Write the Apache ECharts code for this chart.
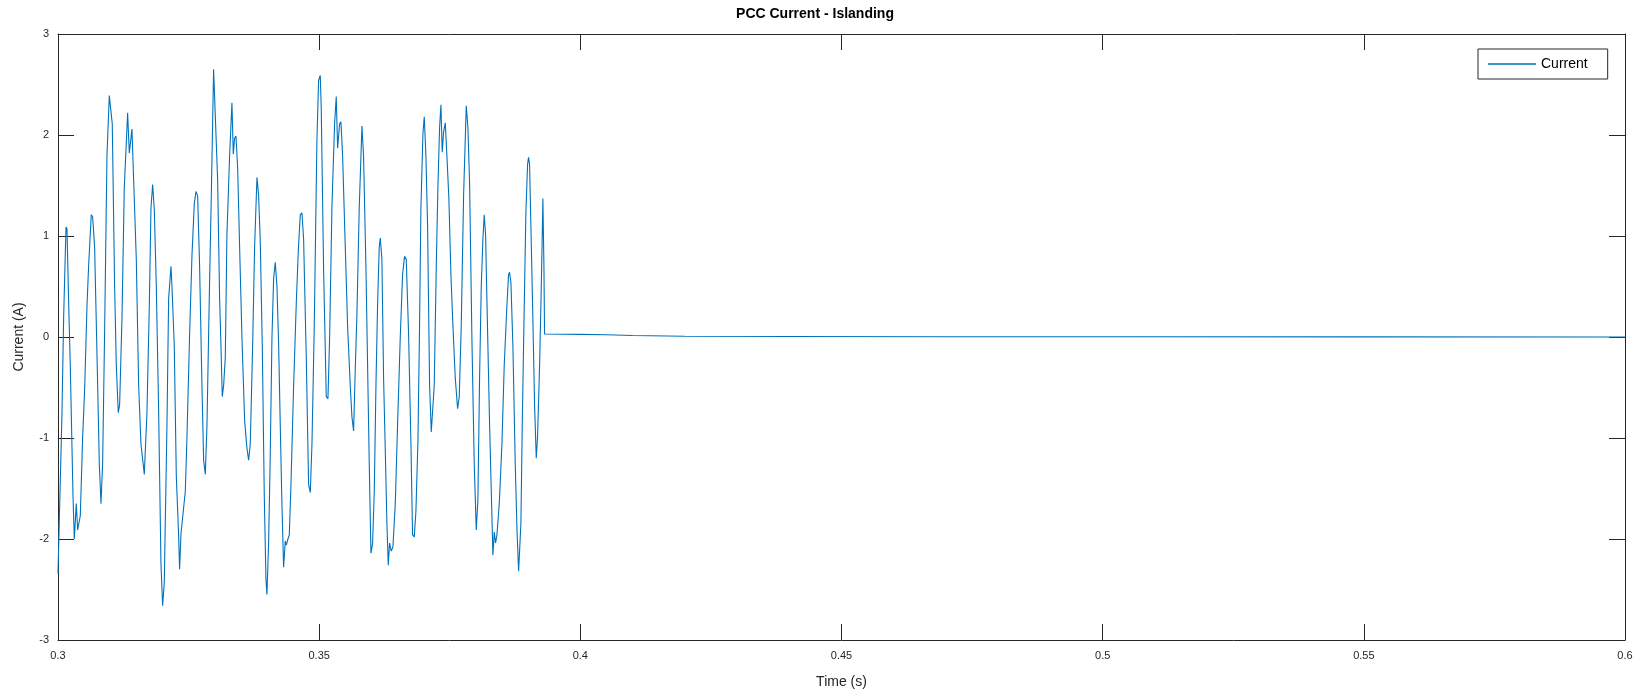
<!DOCTYPE html>
<html>
<head>
<meta charset="utf-8">
<script src="https://cdn.jsdelivr.net/npm/echarts@6/dist/echarts.min.js"></script>
<style>
html,body{margin:0;padding:0;background:#fff;}
#chart{width:1636px;height:694px;}
</style>
</head>
<body>
<div id="chart"></div>
<script>
const chartTitle = 'PCC Current - Islanding';
const xAxisName = 'Time (s)';
const yAxisName = 'Current (A)';
const seriesName = 'Current';

const timeValues = [
0.30000,0.30076,0.30108,0.30153,0.30172,0.30204,0.30235,0.30287,0.30312,0.30350,0.30376,0.30427,0.30472,0.30510,0.30555,0.30586,0.30637,0.30663,0.30701,0.30746,0.30791,0.30823,0.30854,0.30893,0.30937,0.30982,0.31014,0.31039,0.31084,0.31116,0.31154,0.31180,0.31225,0.31269,0.31333,0.31365,0.31416,0.31448,0.31499,0.31544,0.31588,0.31652,0.31703,0.31748,0.31780,0.31812,0.31844,0.31882,0.31926,0.31971,0.32003,0.32035,0.32054,0.32086,0.32118,0.32163,0.32182,0.32226,0.32265,0.32309,0.32328,0.32354,0.32392,0.32437,0.32469,0.32520,0.32565,0.32609,0.32641,0.32673,0.32711,0.32756,0.32788,0.32820,0.32852,0.32896,0.32935,0.32979,0.33011,
0.33056,0.33094,0.33120,0.33145,0.33171,0.33203,0.33234,0.33285,0.33330,0.33356,0.33381,0.33407,0.33439,0.33477,0.33522,0.33573,0.33617,0.33649,0.33681,0.33726,0.33764,0.33809,0.33841,0.33873,0.33911,0.33949,0.33981,0.34000,0.34032,0.34064,0.34096,0.34128,0.34160,0.34192,0.34223,0.34255,0.34287,0.34319,0.34351,0.34370,0.34402,0.34428,0.34460,0.34511,0.34562,0.34600,0.34638,0.34670,0.34702,0.34753,0.34798,0.34830,0.34862,0.34906,0.34957,0.34989,0.35021,0.35040,0.35085,0.35136,0.35168,0.35200,0.35244,0.35295,0.35327,0.35353,0.35391,0.35417,0.35449,0.35500,0.35544,0.35595,0.35627,0.35659,
0.35691,0.35723,0.35767,0.35819,0.35850,0.35895,0.35927,0.35959,0.35991,0.36023,0.36055,0.36087,0.36118,0.36150,0.36170,0.36201,0.36233,0.36272,0.36297,0.36323,0.36348,0.36380,0.36412,0.36457,0.36501,0.36552,0.36597,0.36635,0.36667,0.36712,0.36757,0.36788,0.36820,0.36852,0.36891,0.36922,0.36948,0.36986,0.37012,0.37044,0.37076,0.37114,0.37146,0.37171,0.37203,0.37242,0.37273,0.37305,0.37331,0.37356,0.37382,0.37414,0.37446,0.37484,0.37522,0.37561,0.37605,0.37650,0.37682,0.37720,0.37765,0.37816,0.37848,0.37880,0.37924,0.37969,0.38007,0.38039,0.38071,0.38103,0.38135,0.38160,0.38186,0.38211,0.38263,0.38307,0.38326,0.38352,0.38377,0.38403,0.38448,0.38499,0.38543,0.38594,0.38626,0.38645,0.38671,0.38709,0.38754,0.38786,0.38818,
0.38862,0.38888,0.38926,0.38958,0.38990,0.39009,0.39028,0.39054,0.39086,0.39124,0.39156,0.39181,0.39220,0.39245,0.39271,0.39283,0.39303,0.39315,
0.39330,0.40000,0.40500,0.41000,0.42000,0.44000,0.47000,0.50000,0.55000,0.60000
];

const currentValues = [
-2.34,-0.75,0.19,1.09,1.07,0.34,-0.28,-1.57,-2.00,-1.65,-1.91,-1.77,-0.99,-0.52,0.31,0.70,1.21,1.19,0.89,-0.16,-1.26,-1.65,-1.26,0.07,1.79,2.39,2.40,2.11,0.50,-0.28,-0.75,-0.67,0.19,1.48,2.22,1.82,2.06,1.56,0.77,-0.48,-1.06,-1.36,-0.75,0.31,1.28,1.51,1.26,0.50,-0.71,-2.24,-2.66,-2.43,-1.83,-0.87,0.38,0.70,0.50,-0.09,-1.38,-1.96,-2.30,-1.95,-1.95,-1.53,-0.99,0.03,0.81,1.32,1.44,1.40,0.70,-0.48,-1.22,-1.36,-0.87,0.38,1.40,2.65,2.65,
1.56,0.38,-0.09,-0.59,-0.48,-0.20,1.01,1.79,2.32,1.81,1.97,1.99,1.68,0.89,-0.01,-0.83,-1.10,-1.22,-1.06,-0.09,0.89,1.58,1.40,0.93,-0.09,-1.57,-2.40,-2.55,-2.04,-1.14,-0.01,0.58,0.74,0.50,-0.05,-0.87,-1.65,-2.28,-2.02,-2.06,-2.00,-1.96,-1.46,-0.48,0.34,0.85,1.21,1.23,0.97,-0.20,-1.46,-1.54,-1.06,0.11,1.95,2.54,2.59,2.26,0.66,-0.59,-0.61,-0.01,1.28,2.11,2.38,1.87,2.11,2.13,1.79,0.89,0.11,-0.48,-0.79,-0.93,
-0.32,0.23,1.28,2.09,1.79,0.70,-0.28,-1.26,-2.14,-2.04,-1.53,-0.48,0.31,0.89,0.98,0.77,-0.40,-1.26,-1.85,-2.26,-2.04,-2.12,-2.08,-1.65,-0.87,-0.01,0.62,0.80,0.77,0.03,-1.06,-1.96,-1.98,-1.73,-1.03,0.11,1.28,2.01,2.18,1.79,1.09,-0.48,-0.94,-0.94,-0.48,0.70,1.48,2.07,2.30,1.83,2.03,2.12,1.79,1.36,0.62,0.11,-0.40,-0.71,-0.59,0.11,1.40,2.29,2.07,1.52,-0.01,-1.26,-1.91,-1.61,-0.40,0.50,0.97,1.21,1.01,0.38,-0.87,-1.77,-2.16,-1.93,-2.04,-1.96,-1.65,-1.06,-0.28,0.31,0.62,0.64,0.54,-0.09,-1.26,-1.89,-2.32,
-1.85,-0.87,0.31,1.24,1.71,1.78,1.71,1.09,0.31,-0.67,-1.20,-0.99,-0.28,0.31,1.01,1.37,0.70,0.03,
0.028,0.026,0.022,0.015,0.008,0.005,0.003,0.002,0.001,0.000
];

const xTickValues = [0.3,0.35,0.4,0.45,0.5,0.55,0.6];
const yTickValues = [-3,-2,-1,0,1,2,3];

const lineData = timeValues.map((t,i)=>[t,currentValues[i]]);

const axisColor = '#262626';
const fontFam = 'Liberation Sans, Arial, Helvetica, sans-serif';

const chart = echarts.init(document.getElementById('chart'), null, {renderer:'canvas'});
const baseX = {
  type:'value', min:xTickValues[0], max:xTickValues[xTickValues.length-1], interval:0.05,
  axisLine:{show:true,onZero:false,lineStyle:{color:axisColor,width:1}},
  axisTick:{show:true,inside:true,length:16,lineStyle:{color:axisColor,width:1}},
  splitLine:{show:false}
};
const baseY = {
  type:'value', min:yTickValues[0], max:yTickValues[yTickValues.length-1], interval:1,
  axisLine:{show:true,onZero:false,lineStyle:{color:axisColor,width:1}},
  axisTick:{show:true,inside:true,length:16,lineStyle:{color:axisColor,width:1}},
  splitLine:{show:false}
};
chart.setOption({
  animation:false,
  backgroundColor:'#ffffff',
  title:{
    text:chartTitle, left:810, textAlign:'center', top:2,
    textStyle:{fontFamily:fontFam,fontSize:14,fontWeight:'bold',color:'#000'}
  },
  grid:{left:58,right:11,top:34,bottom:44,containLabel:false},
  legend:{
    data:[{name:seriesName,icon:'rect'}],
    left:1478, top:49, itemWidth:48, itemHeight:1.5, itemGap:5,
    padding:[8,20,8,10],
    borderColor:axisColor, borderWidth:1, backgroundColor:'#fff',
    textStyle:{fontFamily:fontFam,fontSize:14,color:'#000'}
  },
  xAxis:[
    Object.assign({}, baseX, {
      position:'bottom',
      name:xAxisName, nameLocation:'middle', nameGap:35,
      nameTextStyle:{fontFamily:fontFam,fontSize:14,color:'#262626'},
      axisLabel:{show:true,margin:10,fontFamily:fontFam,fontSize:11,color:'#262626',
        formatter:v=>String(+v.toFixed(2))}
    }),
    Object.assign({}, baseX, {position:'top', axisLabel:{show:false}})
  ],
  yAxis:[
    Object.assign({}, baseY, {
      position:'left',
      name:yAxisName, nameLocation:'middle', nameGap:32,
      nameTextStyle:{fontFamily:fontFam,fontSize:14,color:'#262626'},
      axisLabel:{show:true,margin:9,fontFamily:fontFam,fontSize:11,color:'#262626',
        formatter:v=>String(v)}
    }),
    Object.assign({}, baseY, {position:'right', axisLabel:{show:false}})
  ],
  series:[{
    name:seriesName, type:'line', data:lineData,
    xAxisIndex:0, yAxisIndex:0,
    showSymbol:false, symbol:'none', smooth:false, sampling:null,
    lineStyle:{color:'#0072BD',width:1.1},
    itemStyle:{color:'#0072BD'}
  }]
});
</script>
</body>
</html>
